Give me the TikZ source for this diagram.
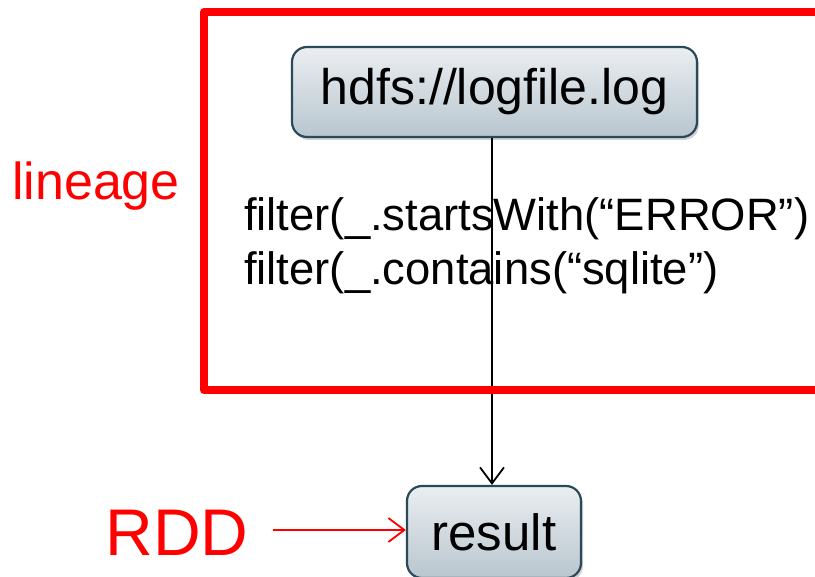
\documentclass[tikz,border=0pt]{standalone}
\usepackage{fontspec}
\setmainfont{Liberation Sans}
\usetikzlibrary{arrows.meta,shadows}
\definecolor{boxtop}{HTML}{EBEEF1}
\definecolor{boxbot}{HTML}{B8C6CF}
\definecolor{boxline}{HTML}{2B4A58}
\definecolor{pred}{HTML}{FF0000}
\tikzset{
  fbox/.style={draw=boxline, line width=2.2pt, rounded corners=15pt,
    top color=boxtop, bottom color=boxbot, inner sep=0pt,
    drop shadow={opacity=0.35, shadow xshift=2pt, shadow yshift=-3pt}},
  txt/.style={inner sep=0pt, font=\fontsize{45.4}{54}\selectfont},
  redtxt/.style={inner sep=0pt, text=pred},
  flow/.style={line width=1.8pt, -{Straight Barb[length=16pt,width=24pt,line width=1.8pt]}},
  redflow/.style={line width=1.8pt, draw=pred, -{Straight Barb[length=16pt,width=24pt,line width=1.8pt]}}
}
\begin{document}
\begin{tikzpicture}[x=1pt,y=1pt]
\clip (0,0) rectangle (815,-577);
\fill[white] (0,0) rectangle (815,-577);
% nodes
\node[fbox, minimum width=405pt, minimum height=90pt, font=\fontsize{50}{58}\selectfont] (src) at (494.5,-92) {hdfs://logfile.log};
\node[fbox, minimum width=174pt, minimum height=92pt, font=\fontsize{51}{58}\selectfont] (res) at (494,-532) {result};
\node[txt, anchor=base west] (f1) at (244,-231) {filter(\_.startsWith(“ERROR”)};
\node[txt, anchor=base west] (f2) at (244,-285) {filter(\_.contains(“sqlite”)};
\node[redtxt, anchor=base, font=\fontsize{52}{60}\selectfont] (lin) at (96,-200) {lineage};
\node[redtxt, anchor=base, font=\fontsize{66}{76}\selectfont] (rdd) at (177,-555) {RDD};
% lineage arrow
\draw[flow] (src.south -| 492,0) -- (res.north -| 492,0);
% red frame
\draw[pred, line width=8pt, line join=round] (840,-12) -- (204,-12) -- (204,-390) -- (840,-390);
% RDD arrow
\coordinate (rddstart) at (273,-530);
\draw[redflow] (rddstart) -- (res.west |- rddstart);
\end{tikzpicture}
\end{document}
